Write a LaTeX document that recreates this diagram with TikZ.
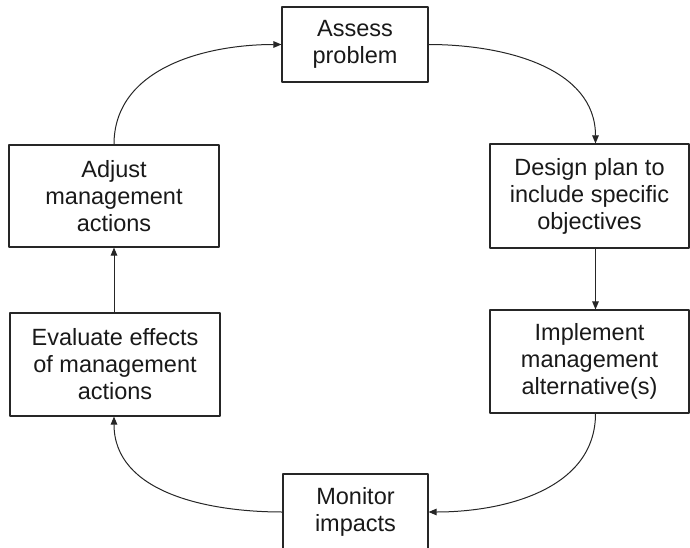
\documentclass[tikz,border=0pt]{standalone}
\usepackage{fontspec}
\setmainfont{Liberation Sans}
\usetikzlibrary{arrows.meta}
\begin{document}
\begin{tikzpicture}[x=1pt, y=-1pt, line join=round, >={Triangle[length=8pt,width=6.5pt]},
  font=\fontsize{23.5}{27}\selectfont,
  box/.style={draw=black!85, line width=1.1pt, align=center, inner sep=0pt, text=black!90},
  link/.style={->, draw=black!85, line width=1pt}]
\useasboundingbox (0,0) rectangle (690,548);
\node[box, minimum width=146pt, minimum height=75pt]  (assess)    at (355,44.5)   {Assess\\problem};
\node[box, minimum width=199pt, minimum height=104pt] (design)    at (589.5,196)  {Design plan to\\include specific\\objectives};
\node[box, minimum width=199pt, minimum height=103pt] (implement) at (589.5,361.5){Implement\\management\\alternative(s)};
\node[box, minimum width=145pt, minimum height=76pt]  (monitor)   at (355.5,512)  {Monitor\\impacts};
\node[box, minimum width=210pt, minimum height=103pt] (evaluate)  at (115,364.5)  {Evaluate effects\\of management\\actions};
\node[box, minimum width=210pt, minimum height=102pt] (adjust)    at (114,196)    {Adjust\\management\\actions};
\draw[link] (adjust.north) to[out=90,in=180] (assess.west);
\draw[link] (assess.east) to[out=0,in=90] ([xshift=6pt]design.north);
\draw[link] ([xshift=6pt]design.south) -- ([xshift=6pt]implement.north);
\draw[link] ([xshift=6pt]implement.south) to[out=-90,in=0] (monitor.east);
\draw[link] (monitor.west) to[out=180,in=-90] ([xshift=-1pt]evaluate.south);
\draw[link] ([xshift=-1pt]evaluate.north) -- (adjust.south);
\end{tikzpicture}
\end{document}
